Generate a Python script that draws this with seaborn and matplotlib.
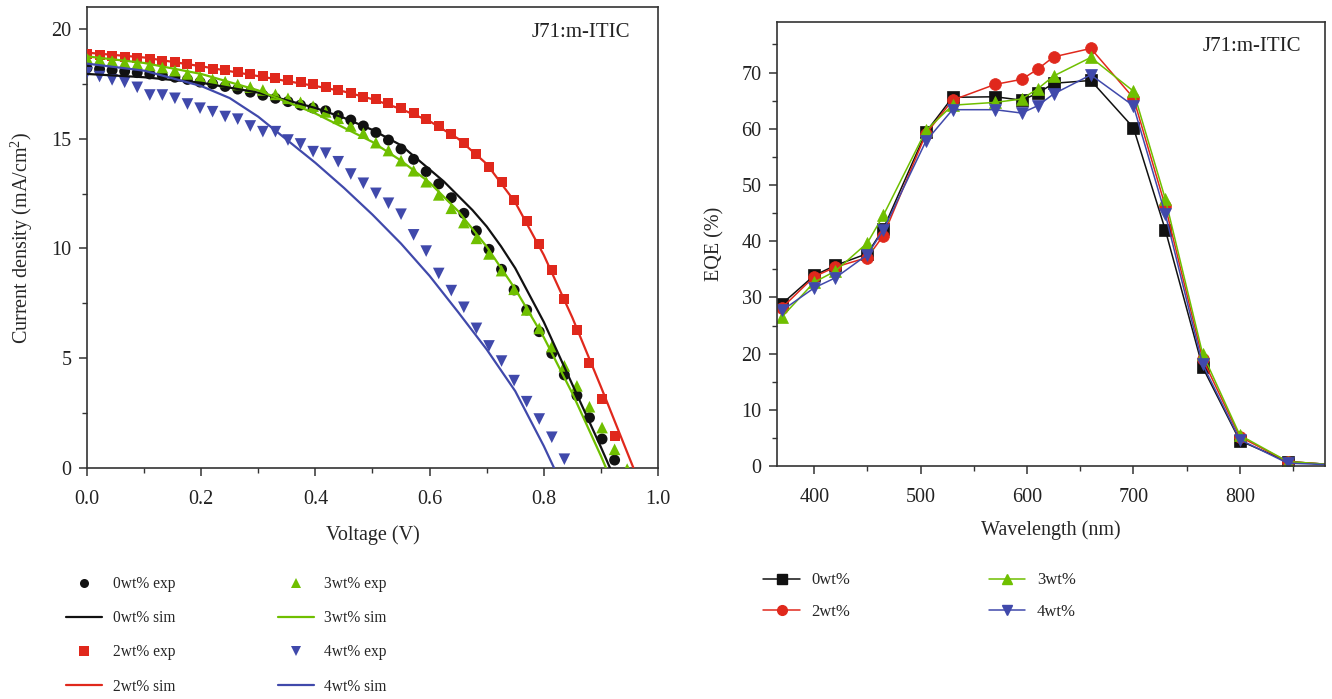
import numpy as np
import pandas as pd
import matplotlib
matplotlib.use("Agg")
import matplotlib.pyplot as plt
from matplotlib.lines import Line2D
from matplotlib.ticker import MultipleLocator
import seaborn as sns

# ---------------- data: J-V (left) ----------------
v_exp_0 = [round(0.022 * k, 3) for k in range(43)]
j_exp_0 = [18.22, 18.17, 18.12, 18.07, 18.01, 17.95, 17.88, 17.80, 17.70, 17.58,
           17.50, 17.38, 17.26, 17.12, 16.98, 16.84, 16.69, 16.53, 16.40, 16.27,
           16.05, 15.85, 15.58, 15.28, 14.94, 14.53, 14.06, 13.50, 12.94, 12.31,
           11.60, 10.80, 9.96, 9.05, 8.11, 7.20, 6.21, 5.22, 4.24, 3.30,
           2.29, 1.32, 0.36]
v_exp_2 = [round(0.022 * k, 3) for k in range(43)]
j_exp_2 = [18.86, 18.82, 18.77, 18.73, 18.67, 18.62, 18.55, 18.48, 18.39, 18.28,
           18.18, 18.12, 18.03, 17.95, 17.84, 17.75, 17.68, 17.59, 17.48, 17.34,
           17.22, 17.07, 16.92, 16.80, 16.61, 16.39, 16.16, 15.90, 15.58, 15.20,
           14.79, 14.30, 13.70, 13.02, 12.21, 11.25, 10.19, 9.02, 7.68, 6.29,
           4.77, 3.13, 1.46]
v_exp_3 = [round(0.022 * k, 3) for k in range(44)]
j_exp_3 = [18.68, 18.62, 18.55, 18.48, 18.42, 18.34, 18.24, 18.10, 17.95, 17.82,
           17.70, 17.60, 17.47, 17.35, 17.22, 17.02, 16.84, 16.66, 16.48, 16.22,
           15.93, 15.58, 15.25, 14.82, 14.46, 14.00, 13.54, 13.04, 12.44, 11.83,
           11.18, 10.46, 9.75, 8.99, 8.14, 7.20, 6.36, 5.53, 4.65, 3.74,
           2.79, 1.84, 0.85, -0.05]
v_exp_4 = [round(0.022 * k, 3) for k in range(39)]
j_exp_4 = [18.00, 17.83, 17.68, 17.57, 17.34, 16.99, 16.99, 16.84, 16.58, 16.39,
           16.23, 16.01, 15.89, 15.58, 15.32, 15.32, 14.94, 14.76, 14.41, 14.34,
           13.95, 13.39, 12.97, 12.51, 12.06, 11.56, 10.62, 9.88, 8.86, 8.08,
           7.32, 6.36, 5.56, 4.87, 3.98, 3.02, 2.23, 1.40, 0.40]

v_sim_0 = [0.0, 0.1, 0.2, 0.3, 0.4, 0.45, 0.5, 0.55, 0.6, 0.625, 0.65, 0.675, 0.7, 0.725, 0.75, 0.8, 0.85, 0.9, 0.916]
j_sim_0 = [17.95, 17.8, 17.55, 17.1, 16.4, 15.95, 15.4, 14.7, 13.6, 13.05, 12.4, 11.75, 11.0, 10.1, 9.1, 6.65, 3.8, 0.95, 0.0]
v_sim_2 = [0.0, 0.1, 0.2, 0.3, 0.4, 0.45, 0.5, 0.55, 0.6, 0.65, 0.7, 0.75, 0.8, 0.85, 0.9, 0.957]
j_sim_2 = [18.92, 18.7, 18.3, 17.85, 17.4, 17.15, 16.8, 16.35, 15.8, 15.0, 13.85, 12.1, 9.7, 6.85, 3.7, 0.0]
v_sim_3 = [0.0, 0.1, 0.2, 0.3, 0.4, 0.45, 0.5, 0.55, 0.6, 0.65, 0.7, 0.75, 0.8, 0.85, 0.9, 0.909]
j_sim_3 = [18.75, 18.45, 17.95, 17.2, 16.15, 15.5, 14.85, 14.0, 13.0, 11.7, 10.08, 8.15, 5.95, 3.4, 0.55, 0.0]
v_sim_4 = [0.0, 0.1, 0.2, 0.25, 0.3, 0.35, 0.4, 0.45, 0.5, 0.55, 0.6, 0.65, 0.7, 0.75, 0.8, 0.818]
j_sim_4 = [18.42, 18.1, 17.4, 16.85, 16.0, 14.95, 13.9, 12.76, 11.54, 10.22, 8.75, 7.1, 5.4, 3.5, 1.0, 0.0]

# ---------------- data: EQE (right) ----------------
wavelength = [370, 400, 420, 450, 465, 505, 530, 570, 595, 610, 625, 660, 700, 730, 765, 800, 845, 890]
eqe_0 = [28.9, 33.9, 35.7, 37.8, 42.2, 59.4, 65.6, 65.7, 65.1, 66.3, 68.1, 68.6, 60.2, 42.0, 17.6, 4.5, 0.8, 0.2]
eqe_2 = [28.2, 33.7, 35.4, 37.1, 41.0, 59.1, 65.1, 67.9, 68.8, 70.6, 72.8, 74.3, 65.5, 46.2, 19.1, 5.2, 0.8, 0.2]
eqe_3 = [26.6, 32.7, 34.7, 39.7, 44.6, 59.7, 64.2, 64.7, 65.3, 67.1, 69.4, 72.7, 66.7, 47.5, 20.0, 5.5, 0.8, 0.2]
eqe_4 = [27.7, 31.7, 33.5, 37.6, 42.0, 57.8, 63.4, 63.4, 62.8, 64.1, 66.2, 69.6, 64.1, 44.8, 18.1, 4.7, 0.5, 0.2]

labels = ["0wt%", "2wt%", "3wt%", "4wt%"]
colors = ["#111111", "#e0281c", "#6fbf00", "#4049ab"]

# ---------------- styling ----------------
sns.set_theme(style="ticks")
plt.rcParams["font.family"] = ["Liberation Serif", "DejaVu Serif"]
plt.rcParams["mathtext.fontset"] = "custom"
plt.rcParams["mathtext.rm"] = "Liberation Serif"
plt.rcParams["mathtext.it"] = "Liberation Serif:italic"
plt.rcParams["axes.edgecolor"] = "#333333"
plt.rcParams["axes.linewidth"] = 1.2
plt.rcParams["xtick.color"] = "#333333"
plt.rcParams["ytick.color"] = "#333333"
plt.rcParams["xtick.labelcolor"] = "#222222"
plt.rcParams["ytick.labelcolor"] = "#222222"

fs_tick = 14.5
fs_label = 14.5

fig = plt.figure(figsize=(13.32, 6.99), dpi=100)
axL = fig.add_axes([0.0653, 0.3305, 0.4287, 0.6595])
axR = fig.add_axes([0.5833, 0.3333, 0.4114, 0.6352])

# ---------------- left panel ----------------
exp_sets = [(v_exp_0, j_exp_0, "o", 62), (v_exp_2, j_exp_2, "s", 52),
            (v_exp_3, j_exp_3, "^", 70), (v_exp_4, j_exp_4, "v", 70)]
sim_sets = [(v_sim_0, j_sim_0), (v_sim_2, j_sim_2), (v_sim_3, j_sim_3), (v_sim_4, j_sim_4)]

for (vx, jy, mk, sz), c in zip(exp_sets, colors):
    sns.scatterplot(x=vx, y=jy, marker=mk, s=sz, color=c, edgecolor="none",
                    linewidth=0, ax=axL, legend=False, zorder=3)
for (vx, jy), c in zip(sim_sets, colors):
    sns.lineplot(x=vx, y=jy, color=c, linewidth=1.6, ax=axL, estimator=None,
                 sort=True, legend=False, zorder=4)

axL.set_xlim(0, 1.0)
axL.set_ylim(0, 21)
axL.xaxis.set_major_locator(MultipleLocator(0.2))
axL.xaxis.set_minor_locator(MultipleLocator(0.1))
axL.yaxis.set_major_locator(MultipleLocator(5))
axL.yaxis.set_minor_locator(MultipleLocator(2.5))
axL.set_xticks([0, 0.2, 0.4, 0.6, 0.8, 1.0])
axL.set_xticklabels(["0.0", "0.2", "0.4", "0.6", "0.8", "1.0"])
axL.set_xlabel("Voltage (V)", fontsize=fs_label, labelpad=12)
axL.set_ylabel("Current density (mA/cm$^2$)", fontsize=fs_label, labelpad=12)
axL.text(0.952, 0.965, "J71:m-ITIC", transform=axL.transAxes, ha="right", va="top",
         fontsize=15, color="#222222")

# ---------------- right panel ----------------
eqe_sets = [(eqe_0, "s"), (eqe_2, "o"), (eqe_3, "^"), (eqe_4, "v")]
for (ev, mk), c in zip(eqe_sets, colors):
    sns.lineplot(x=wavelength, y=ev, color=c, marker=mk, markersize=8.5,
                 markeredgecolor=c, markeredgewidth=0.5, linewidth=1.1,
                 ax=axR, estimator=None, legend=False)

axR.set_xlim(365, 880)
axR.set_ylim(0, 79)
axR.xaxis.set_major_locator(MultipleLocator(100))
axR.xaxis.set_minor_locator(MultipleLocator(50))
axR.yaxis.set_major_locator(MultipleLocator(10))
axR.yaxis.set_minor_locator(MultipleLocator(5))
axR.set_xlabel("Wavelength (nm)", fontsize=fs_label, labelpad=10)
axR.set_ylabel("EQE (%)", fontsize=fs_label, labelpad=12)
axR.text(0.956, 0.966, "J71:m-ITIC", transform=axR.transAxes, ha="right", va="top",
         fontsize=15, color="#222222")

for ax in (axL, axR):
    for s in ax.spines.values():
        s.set_visible(True)
    ax.tick_params(axis="both", which="major", direction="out", length=6, width=1.1,
                   labelsize=fs_tick, top=False, right=False)
    ax.tick_params(axis="both", which="minor", direction="out", length=3.5, width=1.0,
                   top=False, right=False)
    ax.tick_params(axis="x", which="major", pad=9.5)
    ax.tick_params(axis="y", which="major", pad=5)

# ---------------- legends ----------------
hL = []
lL = []
markers_exp = ["o", "s", "^", "v"]
for lab, c, mk in zip(labels, colors, markers_exp):
    hL.append(Line2D([], [], linestyle="none", marker=mk, color=c, markersize=6.5,
                     markeredgewidth=0))
    lL.append(f"{lab} exp")
    hL.append(Line2D([], [], color=c, linewidth=1.6))
    lL.append(f"{lab} sim")
fig.legend(hL, lL, loc="upper left", bbox_to_anchor=(0.0495, 0.176), ncol=2,
           frameon=False, fontsize=11.2, handlelength=2.3, handletextpad=0.7,
           labelspacing=1.17, columnspacing=6.6, borderaxespad=0, borderpad=0)

hR = []
for c, mk in zip(colors, ["s", "o", "^", "v"]):
    hR.append(Line2D([], [], color=c, marker=mk, markersize=7, linewidth=1.1,
                     markeredgecolor=c))
fig.legend(hR, ["0wt%", "2wt%", "3wt%", "4wt%"],
           loc="upper left", bbox_to_anchor=(0.573, 0.181), ncol=2, frameon=False,
           fontsize=12, handlelength=2.2, handletextpad=0.7, labelspacing=0.95,
           columnspacing=8.3, borderaxespad=0, borderpad=0)

fig.savefig("out.png", dpi=100)
